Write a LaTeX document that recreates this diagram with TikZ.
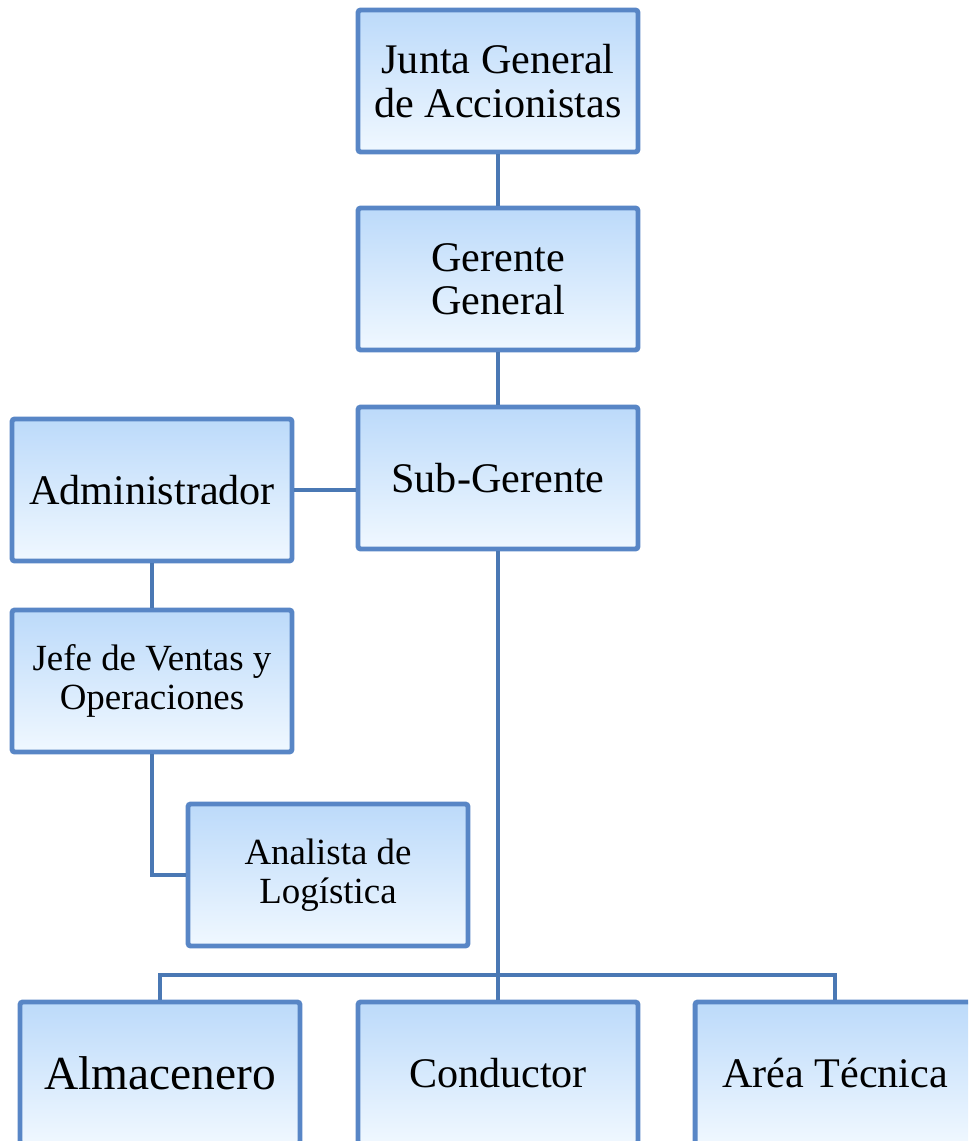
\documentclass[tikz,border=0pt]{standalone}
\usepackage{fontspec}
\setmainfont{Liberation Serif}
\usepackage{tikz}
\usetikzlibrary{positioning}
\definecolor{boxedge}{RGB}{88, 134, 198}
\definecolor{boxtop}{RGB}{188, 218, 250}
\definecolor{boxbottom}{RGB}{240, 248, 255}
\definecolor{linkcolor}{RGB}{74, 120, 180}

\begin{document}
\begin{tikzpicture}[x=0.02cm, y=-0.02cm,
  post/.style={draw=boxedge, line width=2.8pt, rounded corners=1.5pt,
    top color=boxtop, bottom color=boxbottom, align=center,
    minimum width=5.6cm, minimum height=2.84cm, inner sep=2pt,
    font=\fontsize{24}{24.6}\selectfont},
  link/.style={draw=linkcolor, line width=2.8pt}]

  \clip (0, 0) rectangle (968, 1141);

  % --- Direction ---
  \node[post] (junta) at (498, 81) {Junta General\\de Accionistas};
  \node[post] (gerente) at (498, 279) {Gerente\\General};
  \node[post] (sub) at (498, 478) {Sub-Gerente};

  % --- Left branch ---
  \node[post] (admin) at (152, 490) {Administrador};
  \node[post, font=\fontsize{21}{22}\selectfont] (jefe) at (152, 681) {Jefe de Ventas y\\Operaciones};
  \node[post, font=\fontsize{21}{22}\selectfont] (analista) at (328, 875) {Analista de\\Log\'istica};

  % --- Bottom row ---
  \node[post, font=\fontsize{27}{27}\selectfont] (almacen) at (160, 1073) {Almacenero};
  \node[post] (conductor) at (498, 1073) {Conductor};
  \node[post] (tecnica) at (835, 1073) {Ar\'ea T\'ecnica};
  \coordinate (bus) at (498, 975);

  % --- Links ---
  \draw[link] (junta.south) -- (gerente.north);
  \draw[link] (gerente.south) -- (sub.north);
  \draw[link] (sub.west |- admin.east) -- (admin.east);
  \draw[link] (admin.south) -- (jefe.north);
  \draw[link] (jefe.south) |- (analista.west);
  \draw[link] (sub.south) -- (conductor.north);
  \draw[link] (almacen.north) |- (bus) -| (tecnica.north);

\end{tikzpicture}
\end{document}
